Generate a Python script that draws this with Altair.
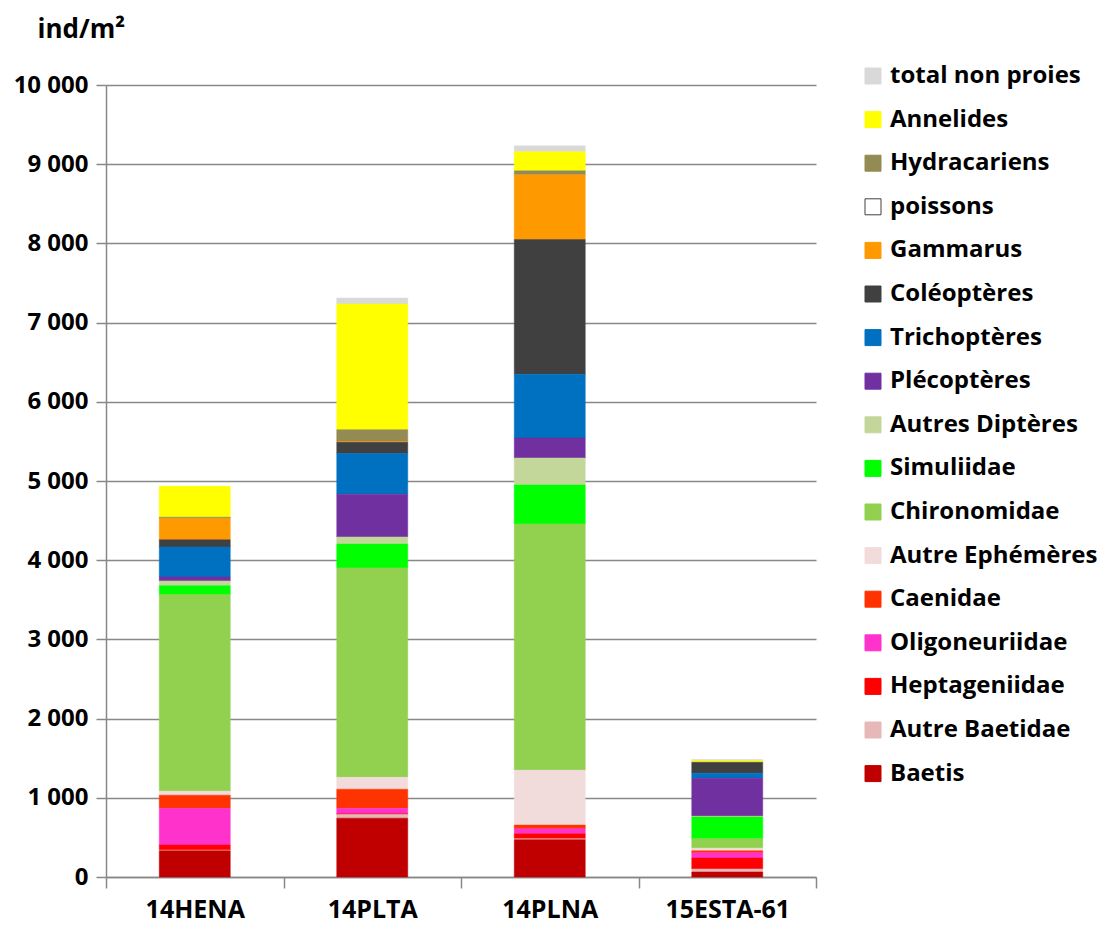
import altair as alt
import pandas as pd

sites = ["14HENA", "14PLTA", "14PLNA", "15ESTA-61"]

# legend order (top to bottom)
taxa = ["total non proies", "Annelides", "Hydracariens", "poissons", "Gammarus",
        "Coléoptères", "Trichoptères", "Plécoptères", "Autres Diptères", "Simuliidae",
        "Chironomidae", "Autre Ephémères", "Caenidae", "Oligoneuriidae",
        "Heptageniidae", "Autre Baetidae", "Baetis"]
colors = ["#D9D9D9", "#FFFF00", "#948A54", "#FFFFFF", "#FF9900",
          "#404040", "#0070C0", "#7030A0", "#C4D79B", "#00FF00",
          "#92D050", "#F2DCDB", "#FF3300", "#FF33CC",
          "#FF0000", "#E6B9B8", "#C00000"]
strokes = ["#D9D9D9", "#FFFF00", "#948A54", "#404040", "#FF9900",
           "#404040", "#0070C0", "#7030A0", "#C4D79B", "#00FF00",
           "#92D050", "#F2DCDB", "#FF3300", "#FF33CC",
           "#FF0000", "#E6B9B8", "#C00000"]

# values per site: 14HENA, 14PLTA, 14PLNA, 15ESTA-61
total_non_proies = [0, 75, 76, 15]
annelides = [390, 1587, 240, 20]
hydracariens = [15, 150, 50, 0]
poissons = [0, 0, 0, 0]
gammarus = [270, 10, 818, 0]
coleopteres = [90, 140, 1700, 138]
trichopteres = [380, 515, 806, 63]
plecopteres = [50, 540, 252, 479]
autres_dipteres = [60, 90, 340, 12]
simuliidae = [115, 300, 492, 274]
chironomidae = [2480, 2645, 3110, 118]
autre_ephemeres = [50, 150, 693, 33]
caenidae = [165, 240, 47, 26]
oligoneuriidae = [465, 70, 63, 66]
heptageniidae = [63, 10, 63, 138]
autre_baetidae = [10, 45, 12, 38]
baetis = [330, 743, 470, 63]

series = [total_non_proies, annelides, hydracariens, poissons, gammarus,
          coleopteres, trichopteres, plecopteres, autres_dipteres, simuliidae,
          chironomidae, autre_ephemeres, caenidae, oligoneuriidae,
          heptageniidae, autre_baetidae, baetis]

rows = []
for i, (t, vals) in enumerate(zip(taxa, series)):
    for s, v in zip(sites, vals):
        if v > 0:
            rows.append({"site": s, "taxon": t, "value": v, "order": len(taxa) - i})
df = pd.DataFrame(rows)

FONT = "Open Sans"

legend_kw = dict(orient="none", legendX=755, legendY=-21,
                 symbolType="square", symbolSize=256, symbolStrokeWidth=1,
                 labelFont=FONT, labelFontSize=24, labelFontWeight="bold",
                 labelColor="#000", labelLimit=400, rowPadding=19.6,
                 labelOffset=5)

chart = alt.Chart(df).mark_bar(size=71, strokeWidth=0.5).encode(
    x=alt.X("site:N", sort=sites, title=None,
            scale=alt.Scale(paddingInner=0, paddingOuter=0),
            axis=alt.Axis(labelAngle=0, labelFontSize=25, labelFont=FONT,
                          labelFontWeight="bold", labelColor="#000",
                          labelPadding=9, tickBand="extent", tickSize=11,
                          tickColor="#888", tickWidth=1.5,
                          domainColor="#888", domainWidth=1.5, grid=False)),
    y=alt.Y("value:Q", stack="zero",
            scale=alt.Scale(domain=[0, 10000], nice=False),
            axis=alt.Axis(values=list(range(0, 10001, 1000)),
                          labelExpr="replace(format(datum.value, ','), ',', ' ')",
                          labelFontSize=24, labelFont=FONT, labelFontWeight="bold",
                          labelColor="#000", labelPadding=8,
                          tickSize=10, tickColor="#888", tickWidth=1.5,
                          domainColor="#888", domainWidth=1.5,
                          gridColor="#888888", gridWidth=1.6,
                          title="ind/m²", titleAngle=0, titleFont=FONT,
                          titleFontSize=26, titleFontWeight="bold", titleColor="#000",
                          titleAlign="left", titleBaseline="alphabetic",
                          titleX=-69, titleY=-48)),
    color=alt.Color("taxon:N", title=None,
                    scale=alt.Scale(domain=taxa, range=colors),
                    legend=alt.Legend(**legend_kw)),
    stroke=alt.Stroke("taxon:N", title=None,
                      scale=alt.Scale(domain=taxa, range=strokes),
                      legend=alt.Legend(**legend_kw)),
    order=alt.Order("order:Q", sort="ascending"),
).properties(
    width=710, height=792,
    padding={"left": 5, "top": 8, "right": 0, "bottom": 5},
).configure_view(stroke=None)

chart.save("out.html", embed_options={"renderer": "svg", "actions": False})
